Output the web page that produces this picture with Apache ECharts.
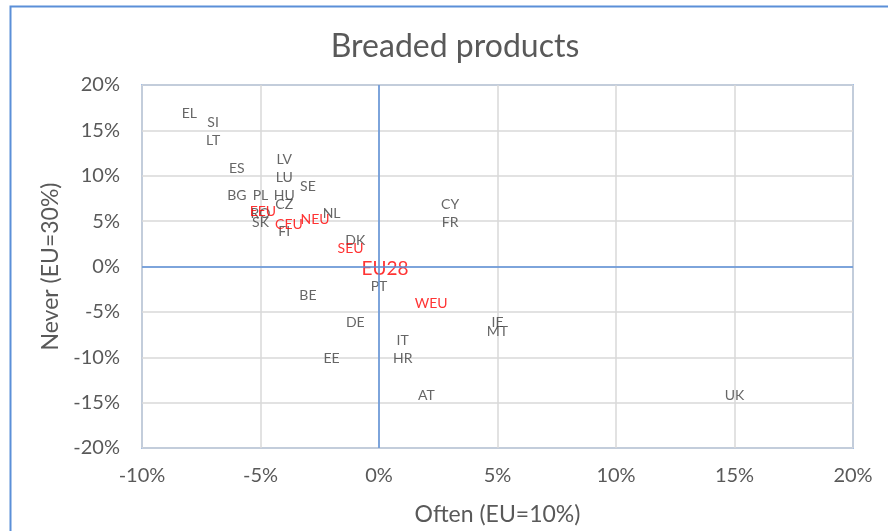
<!DOCTYPE html>
<html>
<head>
<meta charset="utf-8">
<script src="https://cdn.jsdelivr.net/npm/echarts@6/dist/echarts.min.js"></script>
<style>html,body{margin:0;padding:0;background:#fff;}#c{width:888px;height:531px;}</style>
</head>
<body>
<div id="c"></div>
<script>
const codes = ['EL','SI','LT','ES','LV','LU','SE','BG','PL','HU','CZ','RO','SK','FI','NL','DK','PT','BE','DE','IT','EE','HR','AT','CY','FR','IE','MT','UK'];
const often = [-8,-7,-7,-6,-4,-4,-3,-6,-5,-4,-4,-5,-5,-4,-2,-1,0,-3,-1,1,-2,1,2,3,3,5,5,15];
const never = [17,16,14,11,12,10,9,8,8,8,7,6,5,4,6,3,-2,-3,-6,-8,-10,-10,-14,7,5,-6,-7,-14];
const regions = ['EEU','CEU','NEU','SEU','WEU','EU28'];
const regOften = [-4.9,-3.8,-2.7,-1.2,2.2,0.25];
const regNever = [6.2,4.75,5.4,2.2,-3.9,-0.1];
const xTicks = {min:-10, max:20, step:5};
const yTicks = {min:-20, max:20, step:5};

const FONT = 'Lato, "Liberation Sans", sans-serif';
const BLUE = '#5b8fd8';
const chart = echarts.init(document.getElementById('c'), null, {renderer:'canvas'});

const countryData = codes.map((c,i)=>({name:c, value:[often[i], never[i]]}));
const regionData = regions.map((c,i)=>({name:c, value:[regOften[i], regNever[i]],
  label:{fontSize: c==='EU28'?19:14}}));

chart.setOption({
  animation:false,
  graphic:[
    {type:'rect', shape:{x:10.5, y:6.5, width:900, height:540}, style:{fill:'none', stroke:BLUE, lineWidth:2}, z:-1},
    {type:'text', x:455, y:47, style:{text:'Breaded products', fontSize:32, fontFamily:FONT, fill:'#595959', textAlign:'center', textVerticalAlign:'middle'}}
  ],
  grid:{left:142, top:85, right:35, bottom:83, show:true, borderColor:BLUE, borderWidth:1.5},
  xAxis:{type:'value', min:xTicks.min, max:xTicks.max, interval:xTicks.step,
    axisLine:{show:false}, axisTick:{show:false},
    splitLine:{lineStyle:{color:'#d9d9d9', width:1.5}},
    axisLabel:{formatter:v=>v+'%', fontSize:20, fontFamily:FONT, color:'#595959', margin:18},
    name:'Often (EU=10%)', nameLocation:'middle', nameGap:55,
    nameTextStyle:{fontSize:23, fontFamily:FONT, color:'#595959'}},
  yAxis:{type:'value', min:yTicks.min, max:yTicks.max, interval:yTicks.step,
    axisLine:{show:false}, axisTick:{show:false},
    splitLine:{lineStyle:{color:'#d9d9d9', width:1.5}},
    axisLabel:{formatter:v=>v+'%', fontSize:20, fontFamily:FONT, color:'#595959', margin:22},
    name:'Never (EU=30%)', nameLocation:'middle', nameGap:72,
    nameTextStyle:{fontSize:23, fontFamily:FONT, color:'#595959'}},
  series:[
    {type:'scatter', data:countryData, symbolSize:0,
      label:{show:true, position:'inside', offset:[0,1.5], formatter:'{b}', fontSize:14, fontFamily:FONT, color:'#404040'},
      markLine:{silent:true, symbol:'none', label:{show:false},
        lineStyle:{color:BLUE, width:1.5, type:'solid'},
        data:[{xAxis:0},{yAxis:0}]}},
    {type:'scatter', data:regionData, symbolSize:0,
      label:{show:true, position:'inside', offset:[0,1.5], formatter:'{b}', fontSize:14, fontFamily:FONT, color:'#ff0000'}}
  ]
});
</script>
</body>
</html>
